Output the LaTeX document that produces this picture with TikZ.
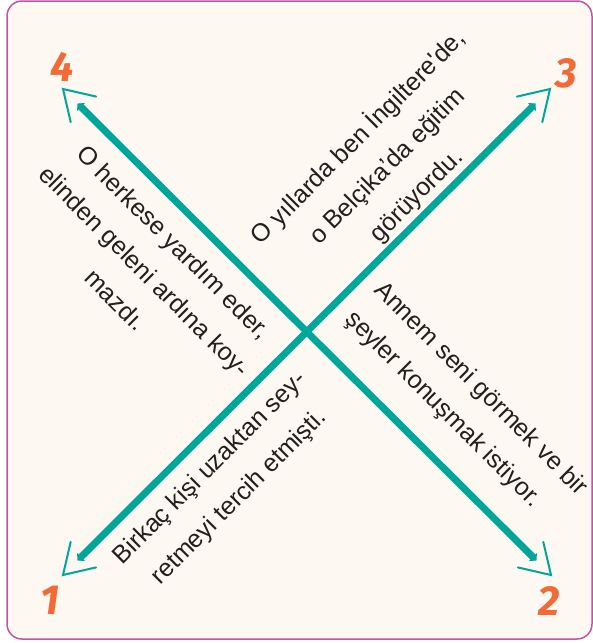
\documentclass[tikz,border=0pt]{standalone}
\usepackage{fontspec}
\setmainfont{Liberation Sans}
\newfontfamily\numfont{Fira Sans}
\usepackage{xcolor}
\definecolor{Ink}{HTML}{231F20}
\definecolor{Teal}{HTML}{00A699}
\definecolor{Paper}{HTML}{FDF8F1}
\definecolor{Frame}{HTML}{C255A3}
\definecolor{Digit}{HTML}{F26A35}
\usetikzlibrary{arrows.meta,calc}

\begin{document}
\begin{tikzpicture}[x=1pt,y=-1pt,
  say/.style={align=center,inner sep=0pt,text=Ink,font=\fontsize{25}{41}\selectfont},
  num/.style={inner sep=0pt,text=Digit,font=\numfont\bfseries\itshape\fontsize{42}{42}\selectfont},
  bar/.style={{Triangle[length=5pt,width=11pt]}-{Triangle[length=5pt,width=11pt]},line width=7pt,color=Teal,shorten <=20.5pt,shorten >=20.5pt},
  barb/.style={line width=2pt,color=Teal,line cap=round}
]
\useasboundingbox (0,0) rectangle (593,643);
\draw[Frame,fill=Paper,line width=1.5pt,rounded corners=15pt] (7,1) rectangle (592,639);
\coordinate (t4) at (63,89);
\coordinate (t3) at (550,89);
\coordinate (t1) at (63,575);
\coordinate (t2) at (551,575);
\node[num] (n4) at (62,67) {4};
\node[num] (n3) at (566,73) {3};
\node[num] (n1) at (50,600) {1};
\node[num] (n2) at (549,601) {2};
\draw[bar] (t4) -- (t2);
\draw[bar] (t1) -- (t3);
\draw[barb] ($(t4)!34pt!32:(t2)$) -- (t4) -- ($(t4)!34pt!-32:(t2)$);
\draw[barb] ($(t2)!34pt!32:(t4)$) -- (t2) -- ($(t2)!34pt!-32:(t4)$);
\draw[barb] ($(t1)!34pt!32:(t3)$) -- (t1) -- ($(t1)!34pt!-32:(t3)$);
\draw[barb] ($(t3)!34pt!32:(t1)$) -- (t3) -- ($(t3)!34pt!-32:(t1)$);
\node[say,rotate=45] (bel) at (387,166) {O yıllarda ben İngiltere\textquotesingle de,\\o Belçika’da eğitim\\görüyordu.};
\node[say,rotate=-45] (her) at (145,271) {O herkese yardım eder,\\elinden geleni ardına koy-\\mazdı.};
\node[say,rotate=-45,align=left] (ann) at (466,404) {Annem seni görmek ve bir\\şeyler konuşmak istiyor.};
\node[say,rotate=45] (bir) at (225,483) {Birkaç kişi uzaktan sey-\\retmeyi tercih etmişti.};
\end{tikzpicture}
\end{document}
